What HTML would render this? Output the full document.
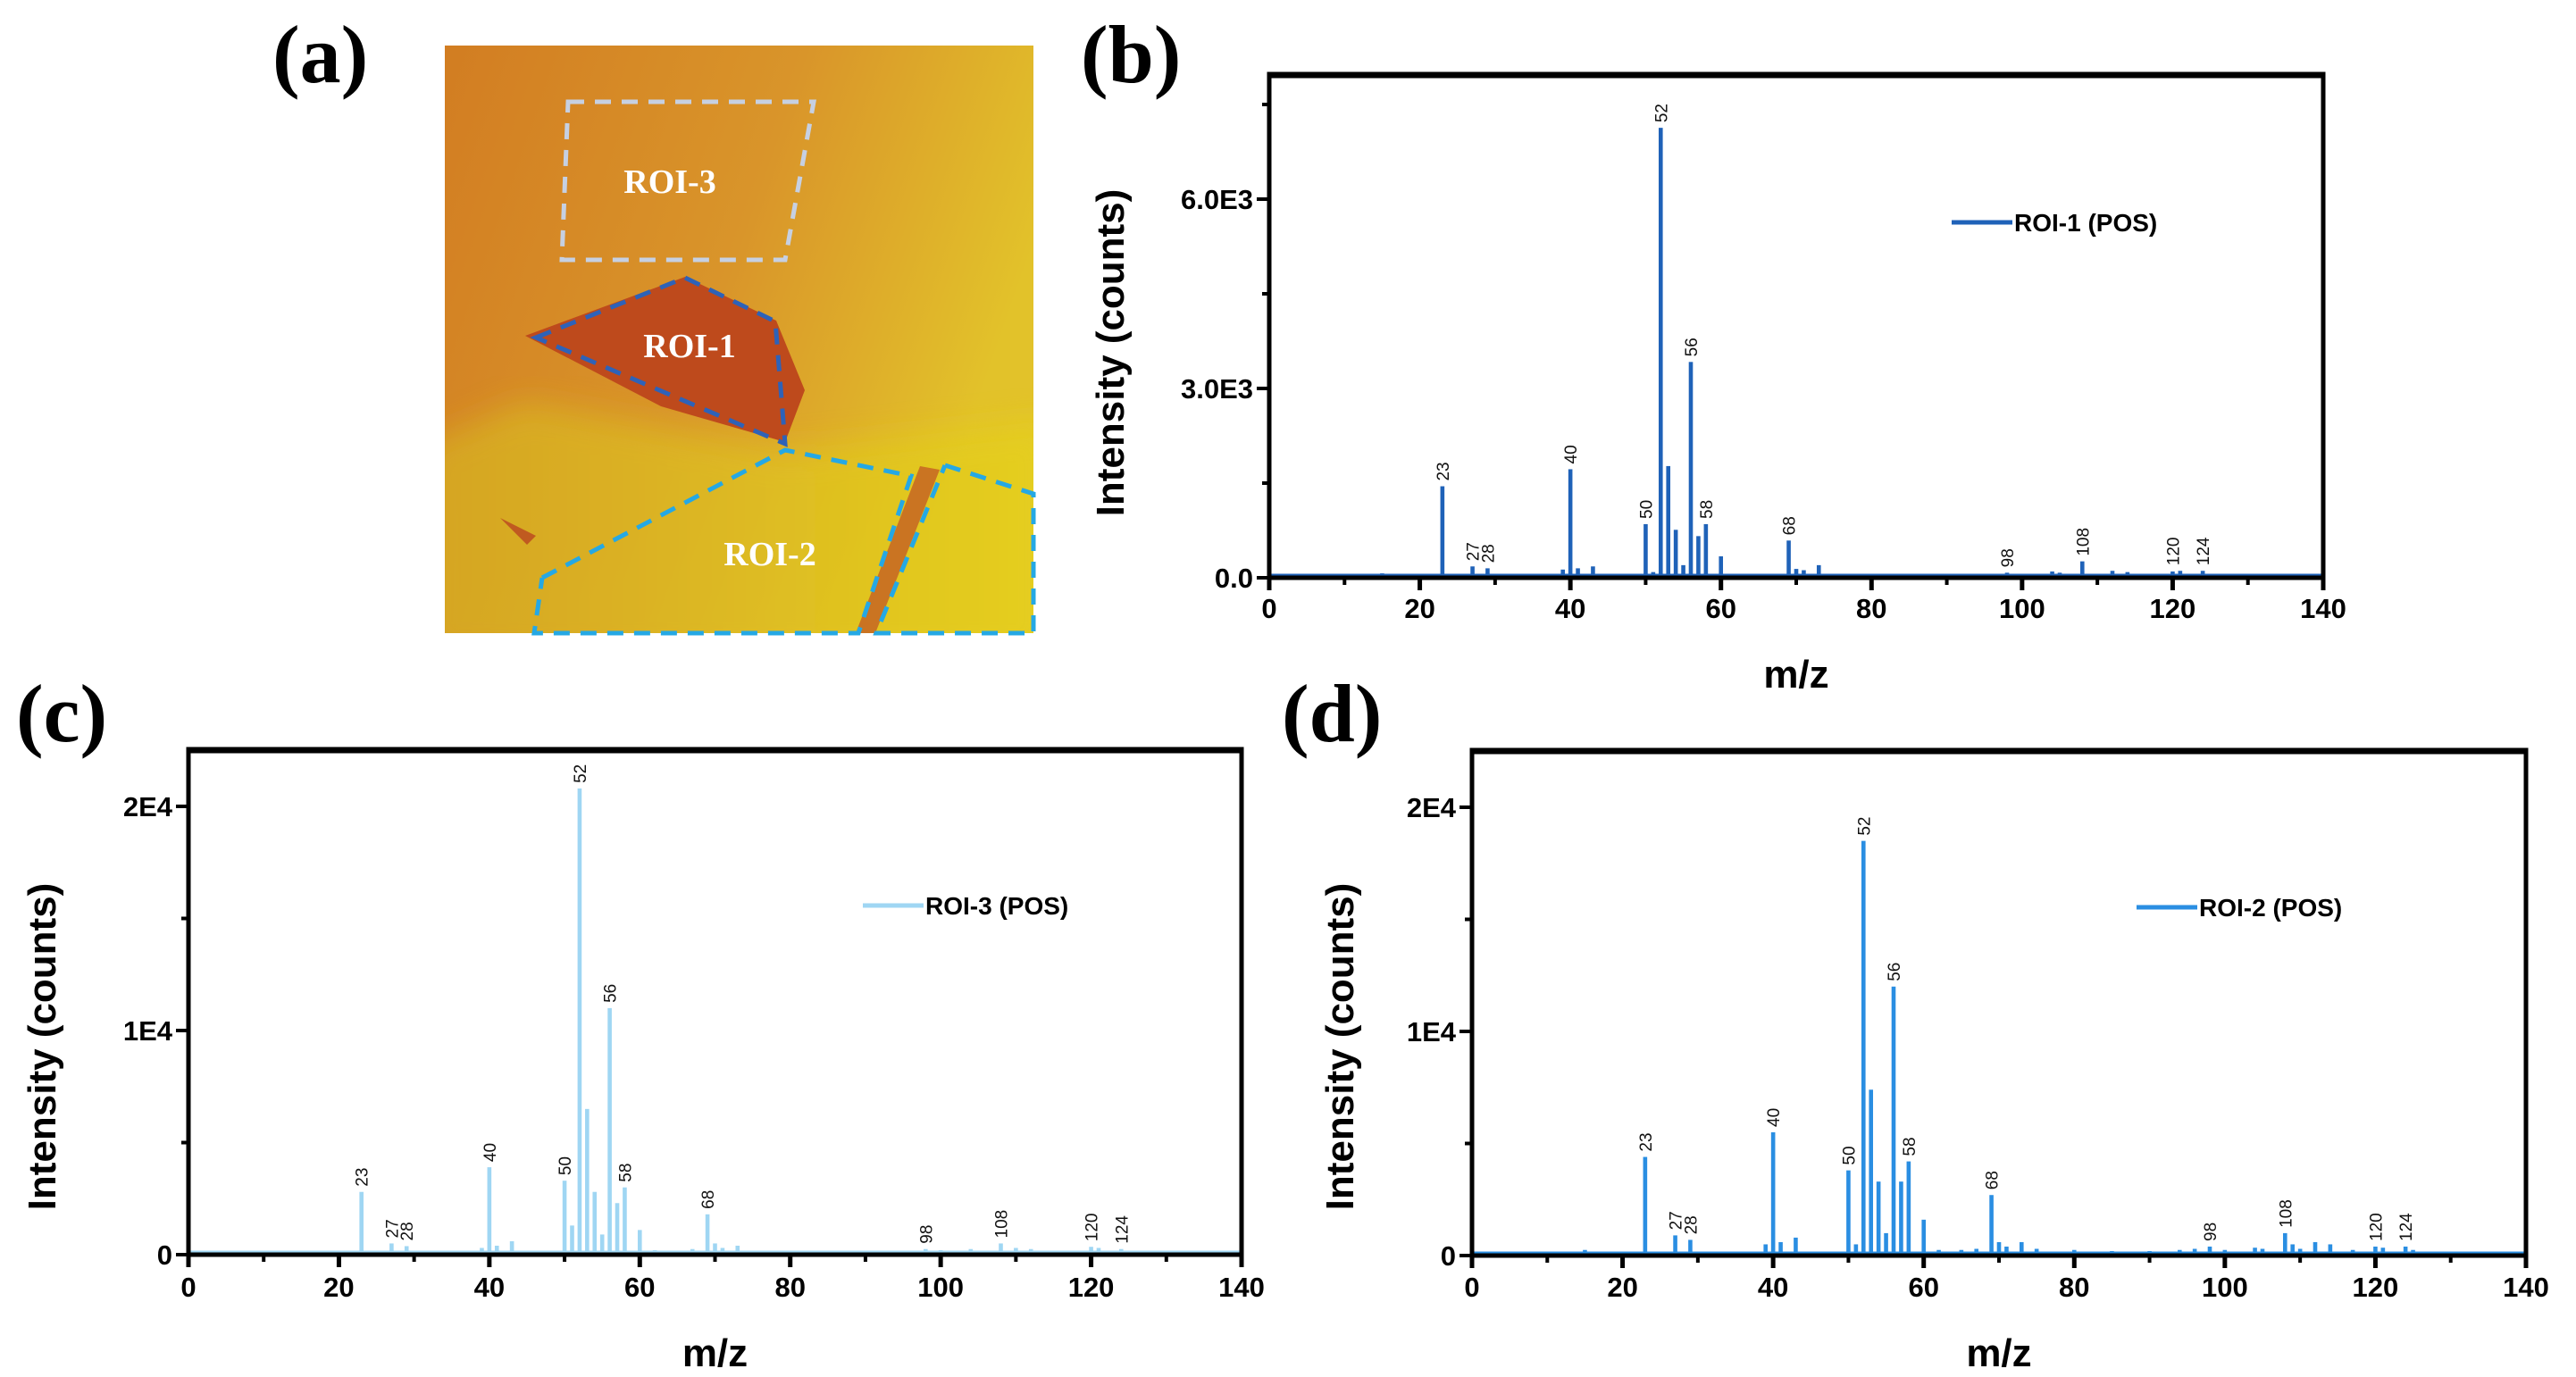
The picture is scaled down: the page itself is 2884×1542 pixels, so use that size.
<!DOCTYPE html>
<html><head><meta charset="utf-8">
<style>
html,body{margin:0;padding:0;background:#fff;}
svg{display:block;}
text{font-family:"Liberation Sans",Arial,sans-serif;}
.pl{font-family:"Liberation Serif","Times New Roman",serif;font-size:92px;font-weight:bold;}
.tk{font-size:31px;font-weight:bold;fill:#000;}
.ti{font-size:44px;font-weight:bold;fill:#000;}
.pk{font-size:19px;fill:#111;}
.lg{font-size:28px;font-weight:bold;fill:#000;}
.roi{font-family:"Liberation Serif",serif;font-weight:bold;font-size:38px;fill:#fff;}
</style></head>
<body>
<svg id="fig" width="2884" height="1542" viewBox="0 0 2884 1542" xmlns="http://www.w3.org/2000/svg">
<defs>
<linearGradient id="bg" x1="0" y1="0" x2="1" y2="0.35">
<stop offset="0" stop-color="#d27d22"/><stop offset="0.55" stop-color="#d9952a"/><stop offset="1" stop-color="#e2c22a"/>
</linearGradient>
<linearGradient id="yl" x1="0" y1="0" x2="1" y2="0">
<stop offset="0" stop-color="#d6ac22"/><stop offset="1" stop-color="#e6d21e"/>
</linearGradient>
<filter id="blur"><feGaussianBlur stdDeviation="18"/></filter>
<clipPath id="imgclip"><rect x="498" y="51" width="659" height="658"/></clipPath>
</defs>
<!-- panel a -->
<g>
<rect x="498" y="51" width="659" height="658" fill="url(#bg)"/>
<g clip-path="url(#imgclip)">
<polygon points="470,500 588,450 879,505 1180,470 1180,740 470,740" fill="url(#yl)" opacity="0.8" filter="url(#blur)"/>
</g>
<polygon points="588,376 767,310 869,359 901,437 879,495 740,455" fill="#be4a1c"/>
<polygon points="1030,522 1052,526 980,709 958,709" fill="#c86a22" opacity="0.9"/>
<polygon points="560,580 600,600 590,610" fill="#c05a20"/>
<polygon points="636,114 911,114 879,291 629,291" fill="none" stroke="#c6d0e2" stroke-width="5" stroke-dasharray="18,12"/>
<polygon points="600,378 767,311 868,360 879,497" fill="none" stroke="#2e62b8" stroke-width="5" stroke-dasharray="18,12"/>
<polyline points="607,647 879,504 1020,533 961,709 598,709 607,647" fill="none" stroke="#25a8e4" stroke-width="5" stroke-dasharray="18,12"/>
<polyline points="1058,521 1157,553 1157,709 981,709 1058,521" fill="none" stroke="#25a8e4" stroke-width="5" stroke-dasharray="18,12"/>
<text class="roi" x="750" y="216" text-anchor="middle">ROI-3</text>
<text class="roi" x="772" y="400" text-anchor="middle">ROI-1</text>
<text class="roi" x="862" y="633" text-anchor="middle">ROI-2</text>
</g>
<text class="pl" x="305" y="92">(a)</text>
<text class="pl" x="1210" y="92">(b)</text>
<text class="pl" x="18" y="830">(c)</text>
<text class="pl" x="1435" y="830">(d)</text>
<g id="charts"></g>
</svg>
<script>
// categories (m/z) and intensities
const mzB = [13,14,15,23,24,27,29,39,40,41,43,45,50,51,52,53,54,55,56,57,58,60,62,63,65,67,69,70,71,73,75,80,84,86,92,94,96,98,100,104,105,108,110,112,114,116,120,121,124,126,128,137];
const valB = [40,50,70,1450,40,180,150,130,1720,150,180,60,850,90,7130,1770,760,200,3420,660,850,340,60,60,50,60,590,140,120,200,60,40,40,40,60,60,60,80,60,100,80,260,60,110,90,40,100,110,110,50,40,40];
const mzC = [7,10,15,20,23,25,27,29,33,39,40,41,43,46,50,51,52,53,54,55,56,57,58,60,62,65,67,69,70,71,73,80,90,94,98,100,104,108,110,112,120,121,124,128,135];
const valC = [60,60,80,60,2800,100,500,380,80,300,3900,400,600,80,3300,1300,20800,6500,2800,900,11000,2300,3000,1100,200,150,250,1800,500,300,400,150,150,150,250,200,250,500,300,250,350,300,250,150,100];
const mzD = [10,15,20,23,25,27,29,33,39,40,41,43,45,50,51,52,53,54,55,56,57,58,60,62,65,67,69,70,71,73,75,80,85,90,94,96,98,100,104,105,108,109,110,112,114,117,120,121,124,125,128,133];
const valD = [60,250,100,4400,150,900,700,100,500,5500,600,800,150,3800,500,18500,7400,3300,1000,12000,3300,4200,1600,250,250,300,2700,600,400,600,300,250,200,200,250,300,400,250,350,300,1000,500,300,600,500,250,400,350,400,250,150,100];
const pkLabB = ["23","27","28","40","50","52","56","58","68","98","108","120","124"];
const pkPosB = [23,27,29,40,50,52,56,58,69,98,108,120,124];
const pkValB = [1450,180,150,1720,850,7130,3420,850,590,80,260,110,110];
const pkLabC = ["23","27","28","40","50","52","56","58","68","98","108","120","124"];
const pkPosC = [23,27,29,40,50,52,56,58,69,98,108,120,124];
const pkValC = [2800,500,380,3900,3300,20800,11000,3000,1800,250,500,350,250];
const pkLabD = ["23","27","28","40","50","52","56","58","68","98","108","120","124"];
const pkPosD = [23,27,29,40,50,52,56,58,69,98,108,120,124];
const pkValD = [4400,900,700,5500,3800,18500,12000,4200,2700,400,1000,400,400];
const xTicks = [0,20,40,60,80,100,120,140];
const yTicksB = [0,3000,6000];
const yTickLabB = ["0.0","3.0E3","6.0E3"];
const yTicksCD = [0,10000,20000];
const yTickLabCD = ["0","1E4","2E4"];

const NS="http://www.w3.org/2000/svg";
const root=document.getElementById('charts');
function mk(tag,attrs,parent){const e=document.createElementNS(NS,tag);for(const k in attrs)e.setAttribute(k,attrs[k]);(parent||root).appendChild(e);return e;}

function panel(id,L,R,T,Y0,pxPer,minorStep,ymaxVal,mz,val,labs,pPos,pVal,yt,ytl,color,legend,legX,legY,titleX,titleY,mzY,tickY){
  const g=mk('g',{});
  
  
  const sx=v=>L+(R-L)*v/140;
  const sy=v=>Y0-v*pxPer;
  for(let i=0;i<mz.length;i++){
    const b=mk('rect',{x:sx(mz[i])-2.3,y:sy(val[i]),width:4.6,height:Y0-sy(val[i]),fill:color},g);
    
    
  }
  const bl=mk('line',{x1:L,x2:R,y1:Y0-3,y2:Y0-3,stroke:color,'stroke-width':3},g);
  
  
  for(let i=0;i<labs.length;i++){
    const x=sx(pPos[i])+7, y=sy(pVal[i])-6;
    const t=mk('text',{class:'pk',x:x,y:y,transform:`rotate(-90 ${x} ${y})`},g);
    t.textContent=labs[i];
    
    
  }
  const fr=mk('path',{d:`M${L},${Y0+2} L${L},${T} L${R},${T} L${R},${Y0+2}`,fill:'none',stroke:'#000','stroke-width':5},g);
  
  
  mk('line',{x1:L,x2:R,y1:T+1,y2:T+1,stroke:'#000','stroke-width':7},g);
  mk('line',{x1:L-2,x2:R+2,y1:Y0,y2:Y0,stroke:'#000','stroke-width':5},g);
  for(let v=0;v<=140;v+=10){
    const major=v%20===0;
    mk('line',{x1:sx(v),x2:sx(v),y1:Y0,y2:Y0+(major?14:8),stroke:'#000','stroke-width':major?5:4},g);
  }
  xTicks.forEach(v=>{
    const t=mk('text',{class:'tk',x:sx(v),y:tickY,'text-anchor':'middle'},g);
    t.textContent=v;
    
    
  });
  for(let v=0;v<=ymaxVal;v+=minorStep){
    const major=yt.indexOf(v)>=0;
    mk('line',{x1:L-(major?14:8),x2:L,y1:sy(v),y2:sy(v),stroke:'#000','stroke-width':4},g);
  }
  yt.forEach((v,i)=>{
    const t=mk('text',{class:'tk',x:L-18,y:sy(v)+11,'text-anchor':'end'},g);
    t.textContent=ytl[i];
    
    
  });
  const yt2=mk('text',{class:'ti',x:titleX,y:titleY,'text-anchor':'middle',transform:`rotate(-90 ${titleX} ${titleY})`},g);
  yt2.textContent='Intensity (counts)';
  
  
  const xt=mk('text',{class:'ti',x:(L+R)/2,y:mzY,'text-anchor':'middle'},g);
  xt.textContent='m/z';
  
  
  const lg=mk('g',{},g);
  
  
  mk('line',{x1:legX,x2:legX+68,y1:legY,y2:legY,stroke:color,'stroke-width':5},lg);
  const lt=mk('text',{class:'lg',x:legX+70,y:legY+10},lg);
  lt.textContent=legend;
}
panel('b',1421,2601,83,647,212/3000,1500,7500,mzB,valB,pkLabB,pkPosB,pkValB,yTicksB,yTickLabB,'#1f62b8','ROI-1 (POS)',2185,249,1258,395,770,692);
panel('c',211,1390,839,1405,251/10000,5000,20000,mzC,valC,pkLabC,pkPosC,pkValC,yTicksCD,yTickLabCD,'#9fd6f3','ROI-3 (POS)',966,1014,62,1172,1530,1452);
panel('d',1648,2828,840,1406,251/10000,5000,20000,mzD,valD,pkLabD,pkPosD,pkValD,yTicksCD,yTickLabCD,'#2a8ee2','ROI-2 (POS)',2392,1016,1515,1172,1530,1452);
</script>
</body></html>
